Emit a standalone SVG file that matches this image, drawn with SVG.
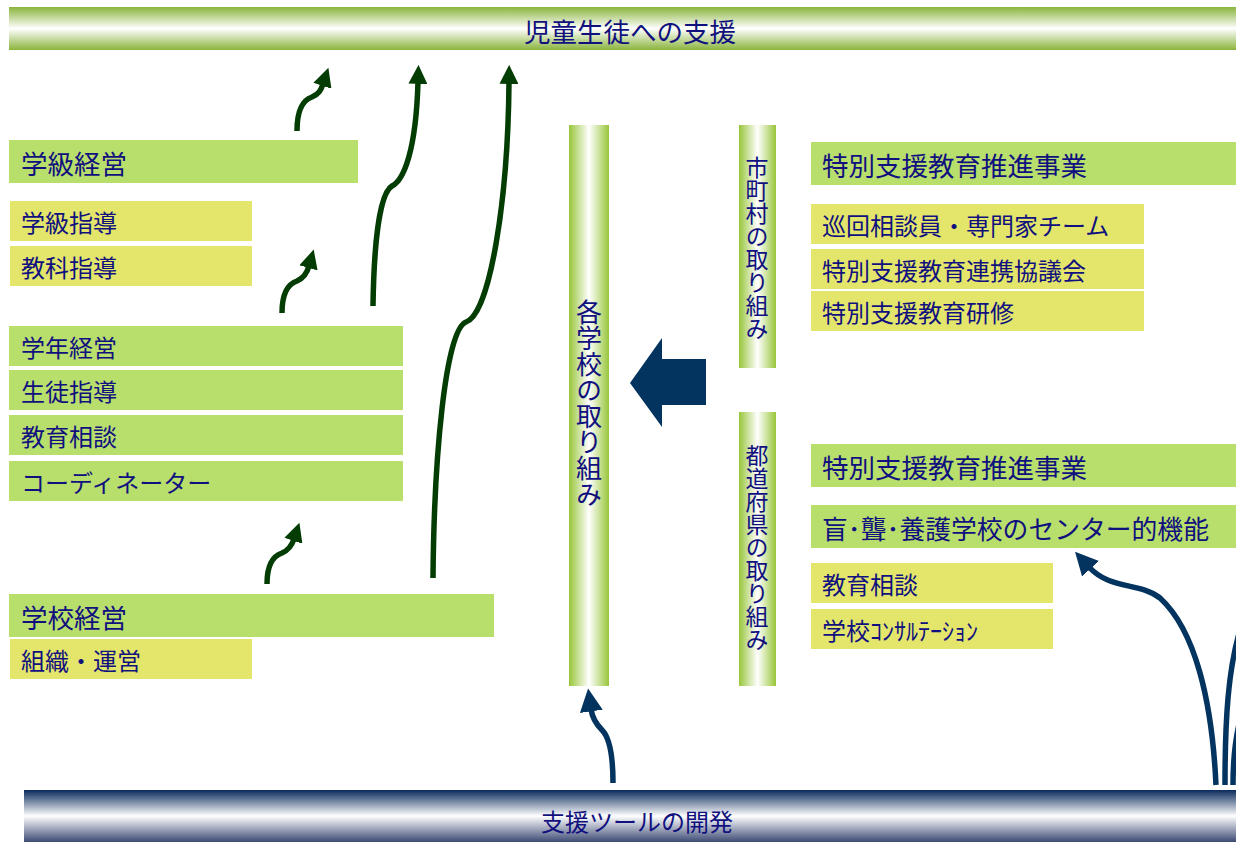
<svg xmlns="http://www.w3.org/2000/svg" width="1236" height="842" viewBox="0 0 1236 842">
<defs>
<linearGradient id="gTop" x1="0" y1="0" x2="0" y2="1">
<stop offset="0" stop-color="#8ab43c"/><stop offset="0.5" stop-color="#ffffff"/><stop offset="1" stop-color="#8ab43c"/>
</linearGradient>
<linearGradient id="gV" x1="0" y1="0" x2="1" y2="0">
<stop offset="0" stop-color="#98c63a"/><stop offset="0.5" stop-color="#ffffff"/><stop offset="1" stop-color="#98c63a"/>
</linearGradient>
<linearGradient id="gBot" x1="0" y1="0" x2="0" y2="1">
<stop offset="0" stop-color="#0a2a5c"/><stop offset="0.5" stop-color="#ffffff"/><stop offset="1" stop-color="#3c4a74"/>
</linearGradient>
<marker id="mg" viewBox="0 0 20 20" refX="2" refY="10" markerWidth="19" markerHeight="19" markerUnits="userSpaceOnUse" orient="auto">
<path d="M0,0 L20,10 L0,20 z" fill="#033d03"/>
</marker>
<marker id="mn" viewBox="0 0 20 20" refX="2" refY="10" markerWidth="23" markerHeight="23" markerUnits="userSpaceOnUse" orient="auto">
<path d="M0,0 L20,10 L0,20 z" fill="#03335f"/>
</marker>
<style>
text{font-family:"Noto Sans CJK JP","Noto Sans CJK SC",sans-serif;fill:#10107e;dominant-baseline:central}
.h{font-size:26.5px}
.s{font-size:24px}
.g{fill:#b8de6c}
.y{fill:#e3e66a}
.vt{writing-mode:vertical-rl;text-anchor:start}
.cg{fill:none;stroke:#033d03;stroke-width:5.5;stroke-linecap:butt}
.cn{fill:none;stroke:#03335f;stroke-width:5.5}
</style>
</defs>
<rect width="1236" height="842" fill="#ffffff"/>

<g id="top">
<rect x="9" y="7" width="1227" height="43" fill="url(#gTop)"/>
<text x="630" y="30" class="h" text-anchor="middle">児童生徒への支援</text>
</g>
<g id="bottom">
<rect x="24" y="790" width="1212" height="52" fill="url(#gBot)"/>
<text x="637" y="820" font-size="24" text-anchor="middle">支援ツールの開発</text>
</g>

<g id="gakkyu-keiei"><rect class="g" x="9" y="140" width="349" height="43"/><text class="h" x="21" y="162">学級経営</text></g>
<g id="gakkyu-shido"><rect class="y" x="10" y="201" width="242" height="40"/><text class="s" x="21" y="221">学級指導</text></g>
<g id="kyoka-shido"><rect class="y" x="10" y="246" width="242" height="40"/><text class="s" x="21" y="266">教科指導</text></g>
<g id="gakunen-keiei"><rect class="g" x="9" y="326" width="394" height="40"/><text class="s" x="21" y="346">学年経営</text></g>
<g id="seito-shido"><rect class="g" x="9" y="370" width="394" height="40"/><text class="s" x="21" y="390">生徒指導</text></g>
<g id="kyoiku-sodan"><rect class="g" x="9" y="415" width="394" height="40"/><text class="s" x="21" y="435">教育相談</text></g>
<g id="coordinator"><rect class="g" x="9" y="461" width="394" height="40"/><text class="s" x="21" y="481">コーディネーター</text></g>
<g id="gakko-keiei"><rect class="g" x="9" y="594" width="485" height="43"/><text class="h" x="21" y="616">学校経営</text></g>
<g id="soshiki"><rect class="y" x="10" y="639" width="242" height="40"/><text class="s" x="21" y="659">組織・運営</text></g>

<g id="kakugakko"><rect x="569" y="125" width="40" height="561" fill="url(#gV)"/><text class="vt" x="589" y="299" font-size="26">各学校の取り組み</text></g>
<g id="shichoson"><rect x="739" y="125" width="37" height="243" fill="url(#gV)"/><text class="vt" x="757" y="156" font-size="23">市町村の取り組み</text></g>
<g id="todofuken"><rect x="739" y="412" width="37" height="274" fill="url(#gV)"/><text class="vt" x="757" y="444" font-size="23">都道府県の取り組み</text></g>

<g id="big-arrow"><polygon points="630,383 662,338 662,359 706,359 706,405 662,405 662,427" fill="#03335f"/></g>

<g id="suishin1"><rect class="g" x="811" y="142" width="425" height="43"/><text class="h" x="822" y="164">特別支援教育推進事業</text></g>
<g id="junkai"><rect class="y" x="811" y="204" width="333" height="40"/><text class="s" x="822" y="224">巡回相談員・専門家チーム</text></g>
<g id="renkei"><rect class="y" x="811" y="249" width="333" height="40"/><text class="s" x="822" y="269">特別支援教育連携協議会</text></g>
<g id="kenshu"><rect class="y" x="811" y="291" width="333" height="40"/><text class="s" x="822" y="311">特別支援教育研修</text></g>
<g id="suishin2"><rect class="g" x="811" y="444" width="425" height="43"/><text class="h" x="822" y="466">特別支援教育推進事業</text></g>
<g id="center"><rect class="g" x="811" y="505" width="425" height="43"/><text x="822" y="527" font-size="25.8">盲･聾･養護学校のセンター的機能</text></g>
<g id="kyoiku-sodan2"><rect class="y" x="811" y="563" width="242" height="40"/><text class="s" x="822" y="583">教育相談</text></g>
<g id="consult"><rect class="y" x="811" y="609" width="242" height="40"/><text class="s" x="822" y="629">学校ｺﾝｻﾙﾃｰｼｮﾝ</text></g>

<g id="connectors">
<path class="cg" marker-end="url(#mg)" d="M297,131 C297,110 303,100 312,97 C319,94 321,90 323,84"/>
<path class="cg" marker-end="url(#mg)" d="M282,313 C282,293 288,284 297,281 C304,278 307,273 309,266"/>
<path class="cg" marker-end="url(#mg)" d="M267,584 C267,565 273,556 282,553 C289,550 292,545 294,539"/>
<path class="cg" stroke-width="4.5" marker-end="url(#mg)" d="M373,306 C374,240 380,193 392,186 C404,180 416,150 418,82"/>
<path class="cg" stroke-width="4.5" marker-end="url(#mg)" d="M433,578 C434,460 445,330 466,322 C490,314 508,200 509,82"/>
<path class="cn" stroke-width="6.5" marker-end="url(#mn)" d="M613,783 C613,755 610,738 602,730 C594,722 592,716 591,709"/>
<path class="cn" marker-end="url(#mn)" d="M1216,785 C1212,700 1195,630 1160,598 C1140,582 1110,590 1089,567"/>
<path class="cn" d="M1225,785 C1225,720 1228,670 1240,630"/>
<path class="cn" d="M1233,785 C1233,760 1235,740 1240,720"/>
</g>
</svg>
